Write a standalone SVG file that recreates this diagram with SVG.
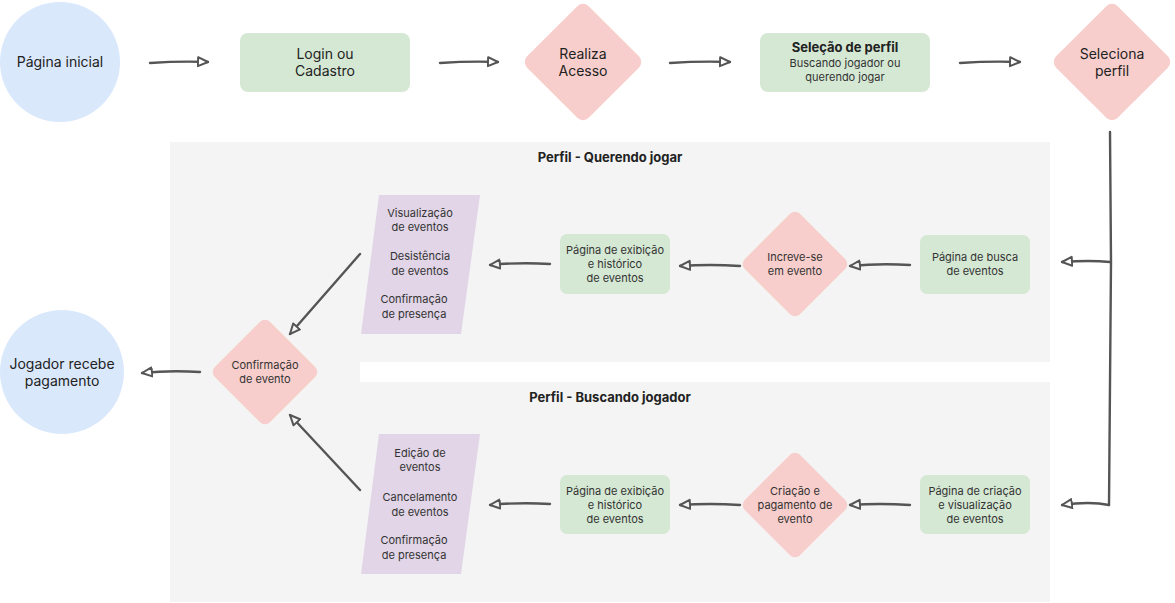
<svg xmlns="http://www.w3.org/2000/svg" width="1175" height="603" viewBox="0 0 1175 603">
<defs>
<marker id="ahW" markerUnits="userSpaceOnUse" markerWidth="14" markerHeight="14" refX="11" refY="6" orient="auto"><path d="M1,1.5 L11,6 L1,10.5 Z" fill="#ffffff" stroke="#555" stroke-width="2" stroke-linejoin="round"/></marker>
<marker id="ahG" markerUnits="userSpaceOnUse" markerWidth="14" markerHeight="14" refX="11" refY="6" orient="auto"><path d="M1,1.5 L11,6 L1,10.5 Z" fill="#f4f4f4" stroke="#555" stroke-width="2" stroke-linejoin="round"/></marker>
<style>
text{font-family:Inter,"Noto Sans","Liberation Sans",sans-serif;fill:#222;text-anchor:middle}
.l{font-size:14px}
.s{font-size:11px;fill:#333}
.b{font-size:13px;font-weight:bold}
.blue{fill:#dae8fc}
.green{fill:#d5e8d4}
.pink{fill:#f8cecc}
.purple{fill:#e1d5e7}
.panel{fill:#f4f4f4}
.c{fill:none;stroke:#555;stroke-width:2.4;stroke-linecap:round}
.w{marker-end:url(#ahW)}
.g{marker-end:url(#ahG)}
</style>
</defs>
<g id="panels">
<rect class="panel" x="170" y="142" width="880" height="220"/>
<rect class="panel" x="170" y="382" width="880" height="220"/>
<rect class="panel" x="170" y="360" width="190" height="24"/>
<text class="b" x="610" y="162">Perfil - Querendo jogar</text>
<text class="b" x="610" y="402">Perfil - Buscando jogador</text>
</g>
<g id="connectors">
<path class="c w" d="M150,63 Q180,61 208,62"/>
<path class="c w" d="M440,63 Q470,61 498,62"/>
<path class="c w" d="M670,63 Q700,61 730,62"/>
<path class="c w" d="M960,63 Q990,61 1020,62"/>
<path class="c" d="M1110,132 L1111,262 L1109,505"/>
<path class="c w" d="M1110,262 Q1090,260 1062,262"/>
<path class="c w" d="M1109,505 Q1090,501 1062,505"/>
<path class="c g" d="M910,265 Q880,263 850,266"/>
<path class="c g" d="M740,266 Q710,264 680,266"/>
<path class="c g" d="M550,264 Q520,262 490,265"/>
<path class="c g" d="M360,254 L290,334"/>
<path class="c g" d="M910,505 Q880,503 850,505"/>
<path class="c g" d="M740,505 Q710,503 680,505"/>
<path class="c g" d="M550,504 Q520,502 490,505"/>
<path class="c g" d="M360,490 L290,415"/>
<path class="c w" d="M200,372 Q170,370 142,373"/>
</g>
<g id="pagina-inicial">
<circle class="blue" cx="60" cy="62" r="60"/>
<text class="l" x="60" y="67">Página inicial</text>
</g>
<g id="login">
<rect class="green" x="240" y="33" width="170" height="59" rx="8"/>
<text class="l" x="325" y="59">Login ou</text>
<text class="l" x="325" y="76">Cadastro</text>
</g>
<g id="realiza-acesso">
<rect class="pink" x="-43.5" y="-43.5" width="87" height="87" rx="8" transform="translate(583,62) rotate(45)"/>
<text class="l" x="583" y="59">Realiza</text>
<text class="l" x="583" y="76">Acesso</text>
</g>
<g id="selecao-perfil">
<rect class="green" x="760" y="33" width="170" height="59" rx="8"/>
<text class="b" x="845" y="52">Seleção de perfil</text>
<text class="s" x="845" y="67">Buscando jogador ou</text>
<text class="s" x="845" y="81">querendo jogar</text>
</g>
<g id="seleciona-perfil">
<rect class="pink" x="-43.5" y="-43.5" width="87" height="87" rx="8" transform="translate(1112,62) rotate(45)"/>
<text class="l" x="1112" y="59">Seleciona</text>
<text class="l" x="1112" y="76">perfil</text>
</g>
<g id="busca-eventos">
<rect class="green" x="920" y="235" width="110" height="59" rx="7"/>
<text class="s" x="975" y="261">Página de busca</text>
<text class="s" x="975" y="275">de eventos</text>
</g>
<g id="increve-se">
<rect class="pink" x="-39" y="-39" width="78" height="78" rx="7" transform="translate(795,264) rotate(45)"/>
<text class="s" x="795" y="261">Increve-se</text>
<text class="s" x="795" y="275">em evento</text>
</g>
<g id="exibicao-1">
<rect class="green" x="560" y="234" width="110" height="60" rx="7"/>
<text class="s" x="615" y="254">Página de exibição</text>
<text class="s" x="615" y="268">e histórico</text>
<text class="s" x="615" y="282">de eventos</text>
</g>
<g id="acoes-1">
<polygon class="purple" points="379,195 480,195 461,334 361,334"/>
<text class="s" x="420" y="217">Visualização</text>
<text class="s" x="420" y="231">de eventos</text>
<text class="s" x="420" y="260">Desistência</text>
<text class="s" x="420" y="275">de eventos</text>
<text class="s" x="414" y="303">Confirmação</text>
<text class="s" x="414" y="318">de presença</text>
</g>
<g id="confirmacao-evento">
<rect class="pink" x="-39" y="-39" width="78" height="78" rx="7" transform="translate(265,372) rotate(45)"/>
<text class="s" x="265" y="369">Confirmação</text>
<text class="s" x="265" y="383">de evento</text>
</g>
<g id="jogador-recebe">
<circle class="blue" cx="62" cy="372" r="62"/>
<text class="l" x="62" y="369">Jogador recebe</text>
<text class="l" x="62" y="386">pagamento</text>
</g>
<g id="criacao-visualizacao">
<rect class="green" x="920" y="475" width="110" height="59" rx="7"/>
<text class="s" x="975" y="495">Página de criação</text>
<text class="s" x="975" y="509">e visualização</text>
<text class="s" x="975" y="523">de eventos</text>
</g>
<g id="criacao-pagamento">
<rect class="pink" x="-39" y="-39" width="78" height="78" rx="7" transform="translate(795,505) rotate(45)"/>
<text class="s" x="795" y="495">Criação e</text>
<text class="s" x="795" y="509">pagamento de</text>
<text class="s" x="795" y="523">evento</text>
</g>
<g id="exibicao-2">
<rect class="green" x="560" y="475" width="110" height="59" rx="7"/>
<text class="s" x="615" y="495">Página de exibição</text>
<text class="s" x="615" y="509">e histórico</text>
<text class="s" x="615" y="523">de eventos</text>
</g>
<g id="acoes-2">
<polygon class="purple" points="379,434 480,434 461,574 361,574"/>
<text class="s" x="420" y="457">Edição de</text>
<text class="s" x="420" y="471">eventos</text>
<text class="s" x="420" y="501">Cancelamento</text>
<text class="s" x="420" y="516">de eventos</text>
<text class="s" x="414" y="544">Confirmação</text>
<text class="s" x="414" y="559">de presença</text>
</g>
</svg>
